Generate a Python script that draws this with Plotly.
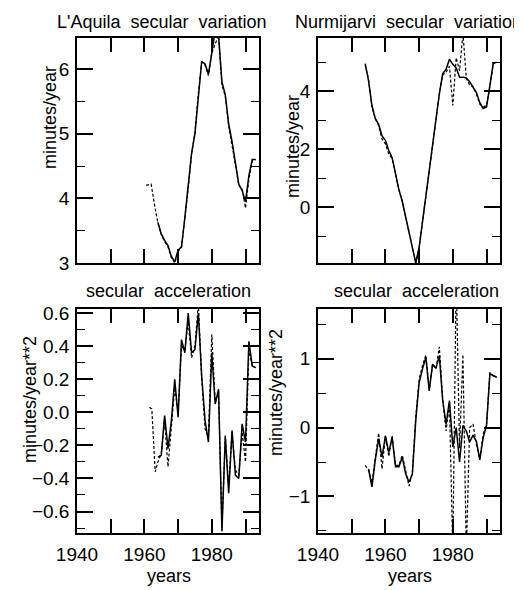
import plotly.graph_objects as go

# ---------------- data ----------------
aq_sv_years = list(range(1964, 1994))
aq_sv_solid = [3.63, 3.45, 3.35, 3.27, 3.10, 3.02, 3.20, 3.25, 3.70, 4.15,
               4.70, 5.00, 5.60, 6.12, 6.08, 5.92, 6.25, 6.60, 6.52, 5.80,
               5.60, 5.15, 4.88, 4.55, 4.22, 4.12, 3.95, 4.35, 4.60, 4.60]
aq_sv_dash_years = [1960.5, 1962.0] + list(range(1963, 1994))
aq_sv_dash = [4.20, 4.22,
              3.90, 3.62, 3.44, 3.33, 3.25, 3.08, 3.00, 3.18, 3.24, 3.68,
              4.15, 4.68, 5.02, 5.62, 6.10, 6.06, 5.90, 6.25, 6.38, 6.52,
              5.75, 5.58, 5.12, 4.85, 4.52, 4.20, 4.15, 3.85, 4.30, 4.58, 4.60]

nu_sv_years = list(range(1954, 1994))
nu_sv_solid = [4.95, 4.35, 3.50, 3.05, 2.85, 2.45, 2.30, 1.95, 1.70, 1.10,
               0.60, 0.20, -0.35, -0.95, -1.50, -1.93, -1.40, -0.50, 0.40, 1.30,
               2.10, 2.95, 3.90, 4.60, 4.75, 5.10, 4.92, 4.80, 4.48, 4.48,
               4.45, 4.32, 4.15, 3.95, 3.60, 3.40, 3.45, 4.15, 4.95, 5.00]
nu_sv_dash = [4.90, 4.40, 3.45, 3.05, 2.80, 2.35, 2.18, 1.82, 1.68, 1.10,
              0.60, 0.20, -0.35, -0.95, -1.50, -1.93, -1.40, -0.50, 0.40, 1.30,
              2.10, 2.95, 3.90, 4.55, 4.65, 4.85, 3.50, 5.15, 4.70, 6.00,
              4.45, 4.20, 4.15, 3.90, 3.55, 3.45, 3.50, 4.15, 4.95, 5.00]

aq_sa_years = list(range(1964, 1994))
aq_sa_solid = [-0.27, -0.26, -0.02, -0.22, -0.05, 0.20, -0.03, 0.44, 0.36, 0.60,
               0.36, 0.38, 0.60, 0.22, -0.05, -0.18, 0.36, 0.05, 0.14, -0.72,
               -0.14, -0.49, -0.11, -0.38, -0.40, -0.07, -0.18, 0.43, 0.28, 0.27]
aq_sa_dash_years = [1961.5, 1962.2, 1963.2] + list(range(1964, 1994))
aq_sa_dash = [0.03, 0.02, -0.36,
              -0.30, -0.25, -0.05, -0.33, -0.08, 0.15, 0.00, 0.40, 0.38, 0.55,
              0.33, 0.40, 0.66, 0.20, -0.10, -0.15, 0.47, 0.06, 0.12, -0.70,
              -0.15, -0.45, -0.12, -0.35, -0.38, -0.12, -0.30, 0.38, 0.28, 0.27]

nu_sa_years = list(range(1955, 1994))
nu_sa_solid = [-0.60, -0.86, -0.47, -0.16, -0.43, -0.12, -0.36, -0.14, -0.57,
               -0.57, -0.43, -0.67, -0.79, -0.68, 0.10, 0.65, 0.85, 1.02, 0.53,
               0.92, 0.86, 1.04, 0.40, 0.05, 0.39, -0.28, 0.00, -0.50, 0.03,
               -0.05, -0.21, -0.11, -0.20, -0.47, -0.15, 0.03, 0.78, 0.75, 0.73]
nu_sa_dash_years = list(range(1954, 1994))
nu_sa_dash = [-0.55, -0.62, -0.80, -0.45, -0.08, -0.60, -0.12, -0.42, -0.12, -0.55,
              -0.55, -0.40, -0.65, -0.85, -0.65, 0.15, 0.70, 0.90, 1.05, 0.55,
              0.92, 0.85, 1.17, 0.40, -0.05, 0.35, -1.80, 2.20, -0.30, 1.06,
              -1.80, 0.00, 0.05, -0.25, -0.45, -0.10, 0.05, 0.80, 0.75, 0.73]

year_ticks = [1940, 1950, 1960, 1970, 1980, 1990]
year_labels = ["1940", "", "1960", "", "1980", ""]

# ---------------- figure ----------------
OFF = 8                     # page body margin of the browser
W, H = 522 - OFF, 590 - OFF
FONT = "Liberation Sans, Arial, sans-serif"

def px_x(p):
    return (p - OFF) / W

def px_y(p):
    return 1 - (p - OFF) / H

fig = go.Figure()

solid_style = dict(color="black", width=1.5)
dash_style = dict(color="black", width=1.2, dash="3px,2px")

panels = [
    ("x", "y", aq_sv_years, aq_sv_solid, aq_sv_dash_years, aq_sv_dash),
    ("x2", "y2", nu_sv_years, nu_sv_solid, nu_sv_years, nu_sv_dash),
    ("x3", "y3", aq_sa_years, aq_sa_solid, aq_sa_dash_years, aq_sa_dash),
    ("x4", "y4", nu_sa_years, nu_sa_solid, nu_sa_dash_years, nu_sa_dash),
]
for xa, ya, xs, ys, xd, yd in panels:
    fig.add_trace(go.Scatter(x=xd, y=yd, mode="lines", line=dash_style,
                             xaxis=xa, yaxis=ya, showlegend=False, hoverinfo="skip"))
    fig.add_trace(go.Scatter(x=xs, y=ys, mode="lines", line=solid_style,
                             xaxis=xa, yaxis=ya, showlegend=False, hoverinfo="skip"))

tickfont = dict(family=FONT, size=19, color="black")

def xax(domain, labels, anchor):
    return dict(domain=domain, range=[1940, 1994], anchor=anchor, automargin=False,
                tickmode="array", tickvals=year_ticks,
                ticktext=year_labels, showticklabels=labels,
                ticks="inside", ticklen=14, tickwidth=1.5, tickcolor="black",
                showline=True, linecolor="black", linewidth=1.5, mirror="ticks",
                showgrid=False, zeroline=False, tickfont=tickfont,
                ticklabelstandoff=3)

def yax(domain, rng, dtick, minor_dtick, anchor, fmt=None):
    d = dict(domain=domain, range=rng, anchor=anchor, tick0=0, dtick=dtick,
             automargin=False,
             ticks="inside", ticklen=16, tickwidth=1.5, tickcolor="black",
             minor=dict(ticks="inside", ticklen=8, tickwidth=1.2, tickcolor="black",
                        dtick=minor_dtick, tick0=0, showgrid=False),
             showline=True, linecolor="black", linewidth=1.5, mirror="ticks",
             showgrid=False, zeroline=False, tickfont=tickfont, ticklabelstandoff=2)
    if fmt:
        d["tickformat"] = fmt
    return d

xl = [px_x(77), px_x(259)]
xr = [px_x(318), px_x(500)]
yt = [px_y(263), px_y(38)]
yb = [px_y(533), px_y(309)]

fig.update_layout(
    width=W, height=H,
    margin=dict(l=0, r=0, t=0, b=0),
    paper_bgcolor="white", plot_bgcolor="white",
    font=dict(family=FONT, size=18, color="black"),
    xaxis=xax(xl, False, "y"),
    yaxis=yax(yt, [3, 6.48], 1, 0.5, "x"),
    xaxis2=xax(xr, False, "y2"),
    yaxis2=yax(yt, [-1.93, 5.83], 2, 1, "x2"),
    xaxis3=xax(xl, True, "y3"),
    yaxis3=yax(yb, [-0.73, 0.625], 0.2, 0.1, "x3", ".1f"),
    xaxis4=xax(xr, True, "y4"),
    yaxis4=yax(yb, [-1.53, 1.72], 1, 0.5, "x4"),
)

def note(text, x, y, angle=0, size=18):
    fig.add_annotation(text=text, x=px_x(x), y=px_y(y), xref="paper", yref="paper",
                       xanchor="center", yanchor="middle", showarrow=False,
                       textangle=angle, font=dict(family=FONT, size=size, color="black"))

note("L'Aquila  secular  variation", 162, 22)
note("Nurmijarvi  secular  variation", 408, 22)
note("secular  acceleration", 168, 291)
note("secular  acceleration", 416, 291)
note("years", 169, 576)
note("years", 410, 576)
note("minutes/year", 50, 118, -90)
note("minutes/year", 293, 147, -90)
note("minutes/year**2", 30, 400, -90)
note("minutes/year**2", 276, 393, -90)

fig.write_html("out.html")
